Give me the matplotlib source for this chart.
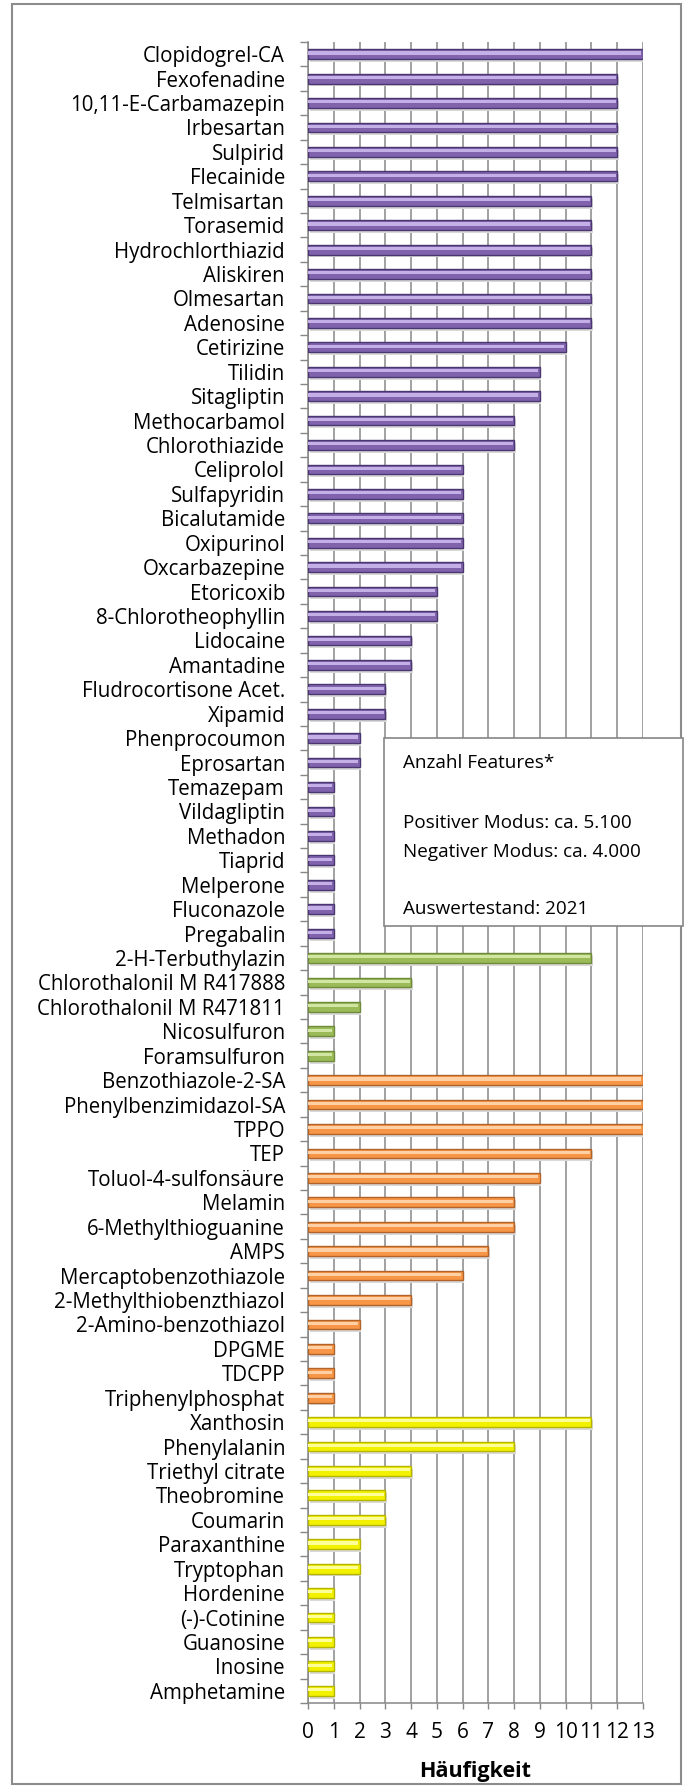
import matplotlib.pyplot as plt
from matplotlib.patches import Rectangle

# Arzneistoffe (lila)
pharma_names = ['Clopidogrel-CA', 'Fexofenadine', '10,11-E-Carbamazepin', 'Irbesartan',
                'Sulpirid', 'Flecainide', 'Telmisartan', 'Torasemid', 'Hydrochlorthiazid',
                'Aliskiren', 'Olmesartan', 'Adenosine', 'Cetirizine', 'Tilidin',
                'Sitagliptin', 'Methocarbamol', 'Chlorothiazide', 'Celiprolol',
                'Sulfapyridin', 'Bicalutamide', 'Oxipurinol', 'Oxcarbazepine',
                'Etoricoxib', '8-Chlorotheophyllin', 'Lidocaine', 'Amantadine',
                'Fludrocortisone Acet.', 'Xipamid', 'Phenprocoumon', 'Eprosartan',
                'Temazepam', 'Vildagliptin', 'Methadon', 'Tiaprid', 'Melperone',
                'Fluconazole', 'Pregabalin']
pharma_vals = [13, 12, 12, 12, 12, 12, 11, 11, 11, 11, 11, 11, 10, 9, 9, 8, 8,
               6, 6, 6, 6, 6, 5, 5, 4, 4, 3, 3, 2, 2, 1, 1, 1, 1, 1, 1, 1]

# Pflanzenschutzmittel (gruen)
pest_names = ['2-H-Terbuthylazin', 'Chlorothalonil M R417888',
              'Chlorothalonil M R471811', 'Nicosulfuron', 'Foramsulfuron']
pest_vals = [11, 4, 2, 1, 1]

# Industriechemikalien (orange)
ind_names = ['Benzothiazole-2-SA', 'Phenylbenzimidazol-SA', 'TPPO', 'TEP',
             'Toluol-4-sulfonsäure', 'Melamin', '6-Methylthioguanine', 'AMPS',
             'Mercaptobenzothiazole', '2-Methylthiobenzthiazol',
             '2-Amino-benzothiazol', 'DPGME', 'TDCPP', 'Triphenylphosphat']
ind_vals = [13, 13, 13, 11, 9, 8, 8, 7, 6, 4, 2, 1, 1, 1]

# Naturstoffe / Sonstige (gelb)
nat_names = ['Xanthosin', 'Phenylalanin', 'Triethyl citrate', 'Theobromine',
             'Coumarin', 'Paraxanthine', 'Tryptophan', 'Hordenine', '(-)-Cotinine',
             'Guanosine', 'Inosine', 'Amphetamine']
nat_vals = [11, 8, 4, 3, 3, 2, 2, 1, 1, 1, 1, 1]

# (mitte, hell, dunkel)
group_colors = [('#8062ad', '#c4b0e6', '#4b3770'),
                ('#9bbb59', '#d2e6a4', '#6f8a3a'),
                ('#f79646', '#fdd0a6', '#b0632a'),
                ('#f2f200', '#ffff9a', '#b5b500')]

groups = [(pharma_names, pharma_vals), (pest_names, pest_vals),
          (ind_names, ind_vals), (nat_names, nat_vals)]

names, vals, cols = [], [], []
for g, (n, v) in enumerate(groups):
    names += n
    vals += v
    cols += [group_colors[g]] * len(n)

W, H = 688, 1789
fig = plt.figure(figsize=(W / 100, H / 100), dpi=100)
plt.rcParams['font.family'] = ['Open Sans', 'DejaVu Sans']

ax = fig.add_axes([308 / W, 1 - 1703 / H, (643 - 308) / W, (1703 - 42) / H])

ypos = list(range(len(names)))
h = 0.40
mid = [c[0] for c in cols]
light = [c[1] for c in cols]
dark = [c[2] for c in cols]
# Schatten
ax.barh([y + 0.12 for y in ypos], vals, height=h, left=0.06, color='#d9d9d9',
        zorder=2, linewidth=0)
ax.barh(ypos, vals, height=h, color=mid, edgecolor=dark, linewidth=1.0, zorder=3)
ax.barh([y - h * 0.12 for y in ypos], [v - 0.06 for v in vals], height=h * 0.32,
        color=light, linewidth=0, zorder=4)

ax.set_xlim(0, 13)
ax.set_ylim(len(names) - 0.5, -0.5)
ax.set_xticks(range(14))
ax.set_yticks(ypos)
ax.set_yticklabels(names)
ax.set_yticks([y - 0.5 for y in ypos] + [len(names) - 0.5], minor=True)
ax.tick_params(axis='y', which='major', length=0, pad=16.5, labelsize=14.8)
ax.tick_params(axis='y', which='minor', length=5.5, width=1, color='#868686',
               direction='out')
ax.tick_params(axis='x', length=4.5, width=1, color='#868686', pad=9,
               labelsize=15)

ax.grid(axis='x', color='#888888', linewidth=1.1, zorder=1)
ax.set_axisbelow(True)
for s in ['top', 'right']:
    ax.spines[s].set_visible(False)
for s in ['left', 'bottom']:
    ax.spines[s].set_color('#868686')
    ax.spines[s].set_linewidth(1.1)

fig.text(475.5 / W, 1 - 1772 / H, 'Häufigkeit', ha='center', va='center',
         fontsize=15.5, fontweight='bold')

# Infobox
box = Rectangle((384 / W, 1 - 926 / H), (683 - 384) / W, (926 - 738) / H,
                transform=fig.transFigure, facecolor='white', edgecolor='#868686',
                linewidth=1.2, zorder=5)
fig.add_artist(box)
info = [('Anzahl Features*', 763), ('Positiver Modus: ca. 5.100', 823),
        ('Negativer Modus: ca. 4.000', 852), ('Auswertestand: 2021', 909)]
for txt, yy in info:
    fig.text(403 / W, 1 - yy / H, txt, ha='left', va='center', fontsize=13.6,
             zorder=6)

# Rahmen
frame = Rectangle((12 / W, 1 - 1784 / H), (681 - 12) / W, (1784 - 4) / H,
                  transform=fig.transFigure, facecolor='none', edgecolor='#8c8c8c',
                  linewidth=1.5, zorder=0)
fig.add_artist(frame)

fig.savefig('out.png', dpi=100)
